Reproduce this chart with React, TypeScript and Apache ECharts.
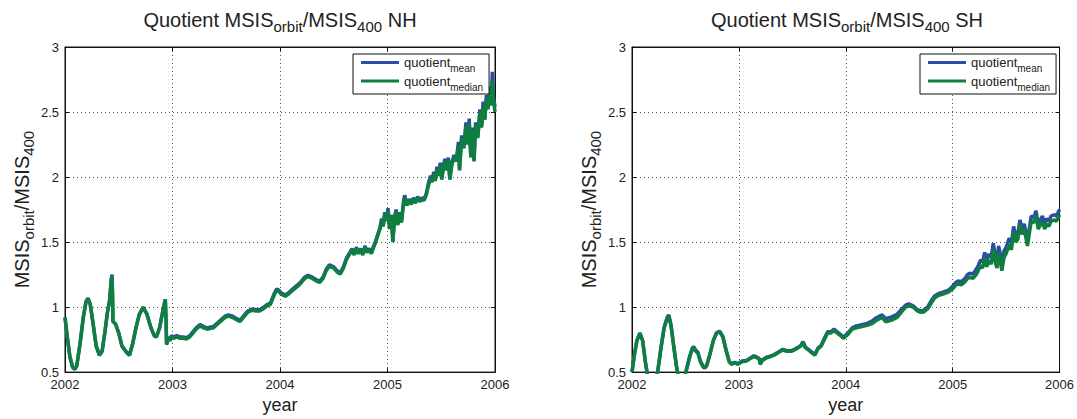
import React, { useEffect, useRef } from 'react';
import * as echarts from 'echarts';

// Axis ranges and tick positions
const yearTicks = [2002, 2003, 2004, 2005, 2006];
const quotientTicks = [0.5, 1, 1.5, 2, 2.5, 3];
const seriesNames = ['mean', 'median'];

// Northern hemisphere quotient, [year, value]
const nhMedian: [number, number][] = [
  [2002.000, 0.92], [2002.020, 0.78], [2002.045, 0.62], [2002.070, 0.54], [2002.090, 0.52],
  [2002.110, 0.55], [2002.140, 0.72], [2002.170, 0.92], [2002.195, 1.04], [2002.214, 1.065],
  [2002.235, 1.02], [2002.260, 0.88], [2002.290, 0.70], [2002.320, 0.63], [2002.345, 0.66],
  [2002.370, 0.80], [2002.395, 0.96], [2002.415, 1.05], [2002.430, 1.21], [2002.437, 1.24],
  [2002.442, 1.10], [2002.446, 0.89], [2002.470, 0.87], [2002.500, 0.80], [2002.530, 0.70],
  [2002.565, 0.66], [2002.600, 0.63], [2002.630, 0.72], [2002.660, 0.84], [2002.690, 0.94],
  [2002.726, 0.996], [2002.760, 0.95], [2002.800, 0.84], [2002.830, 0.78], [2002.850, 0.77],
  [2002.880, 0.84], [2002.910, 0.97], [2002.933, 1.057], [2002.940, 0.90], [2002.945, 0.71],
  [2002.960, 0.76], [2002.975, 0.74], [2002.990, 0.77], [2003.010, 0.76], [2003.040, 0.77],
  [2003.070, 0.76], [2003.100, 0.76], [2003.130, 0.755], [2003.160, 0.77], [2003.190, 0.80],
  [2003.220, 0.83], [2003.256, 0.855], [2003.290, 0.84], [2003.320, 0.83], [2003.350, 0.835],
  [2003.380, 0.84], [2003.420, 0.87], [2003.460, 0.90], [2003.490, 0.92], [2003.520, 0.93],
  [2003.560, 0.92], [2003.600, 0.90], [2003.630, 0.89], [2003.660, 0.92], [2003.700, 0.96],
  [2003.740, 0.976], [2003.780, 0.97], [2003.810, 0.97], [2003.850, 0.99], [2003.876, 1.007],
  [2003.910, 1.02], [2003.930, 1.06], [2003.950, 1.10], [2003.970, 1.128], [2003.990, 1.12],
  [2004.010, 1.10], [2004.050, 1.083], [2004.080, 1.10], [2004.120, 1.13], [2004.155, 1.153],
  [2004.190, 1.18], [2004.230, 1.22], [2004.260, 1.235], [2004.300, 1.22], [2004.340, 1.20],
  [2004.370, 1.19], [2004.400, 1.22], [2004.430, 1.28], [2004.460, 1.315], [2004.500, 1.30],
  [2004.530, 1.27], [2004.560, 1.254], [2004.590, 1.30], [2004.620, 1.37], [2004.650, 1.41],
  [2004.670, 1.44], [2004.690, 1.40], [2004.710, 1.45], [2004.730, 1.41], [2004.750, 1.44],
  [2004.770, 1.40], [2004.790, 1.46], [2004.810, 1.42], [2004.830, 1.44], [2004.850, 1.41],
  [2004.870, 1.457], [2004.890, 1.50], [2004.910, 1.55], [2004.930, 1.60], [2004.945, 1.66],
  [2004.960, 1.62], [2004.975, 1.72], [2004.990, 1.66], [2005.005, 1.74], [2005.020, 1.60],
  [2005.035, 1.70], [2005.050, 1.50], [2005.065, 1.68], [2005.080, 1.74], [2005.095, 1.63],
  [2005.110, 1.72], [2005.130, 1.65], [2005.150, 1.80], [2005.160, 1.84], [2005.180, 1.78],
  [2005.200, 1.82], [2005.220, 1.79], [2005.240, 1.83], [2005.260, 1.80], [2005.280, 1.84],
  [2005.300, 1.81], [2005.320, 1.83], [2005.340, 1.82], [2005.360, 1.86], [2005.380, 1.93],
  [2005.400, 1.99], [2005.415, 1.96], [2005.430, 2.02], [2005.445, 1.97], [2005.460, 2.06],
  [2005.475, 2.01], [2005.490, 2.09], [2005.505, 1.98], [2005.520, 2.07], [2005.535, 2.12],
  [2005.550, 2.05], [2005.565, 2.13], [2005.580, 1.98], [2005.600, 2.10], [2005.620, 2.15],
  [2005.640, 2.12], [2005.660, 2.24], [2005.670, 2.05], [2005.690, 2.30], [2005.710, 2.22],
  [2005.730, 2.39], [2005.745, 2.25], [2005.760, 2.42], [2005.775, 2.15], [2005.790, 2.36],
  [2005.805, 2.12], [2005.820, 2.40], [2005.840, 2.30], [2005.860, 2.50], [2005.875, 2.38],
  [2005.890, 2.55], [2005.905, 2.44], [2005.920, 2.60], [2005.935, 2.52], [2005.950, 2.66],
  [2005.965, 2.55], [2005.975, 2.74], [2005.985, 2.60], [2006.000, 2.50],
];

const nhMean: [number, number][] = [
  [2002.000, 0.92], [2002.020, 0.78], [2002.045, 0.62], [2002.070, 0.54], [2002.090, 0.52],
  [2002.110, 0.55], [2002.140, 0.72], [2002.170, 0.92], [2002.195, 1.04], [2002.214, 1.07],
  [2002.235, 1.02], [2002.260, 0.88], [2002.290, 0.70], [2002.320, 0.63], [2002.345, 0.66],
  [2002.370, 0.80], [2002.395, 0.96], [2002.415, 1.05], [2002.430, 1.21], [2002.437, 1.25],
  [2002.442, 1.10], [2002.446, 0.89], [2002.470, 0.87], [2002.500, 0.80], [2002.530, 0.70],
  [2002.565, 0.66], [2002.600, 0.63], [2002.630, 0.72], [2002.660, 0.84], [2002.690, 0.94],
  [2002.726, 1.0], [2002.760, 0.95], [2002.800, 0.84], [2002.830, 0.78], [2002.850, 0.77],
  [2002.880, 0.84], [2002.910, 0.97], [2002.933, 1.06], [2002.940, 0.90], [2002.945, 0.72],
  [2002.960, 0.77], [2002.975, 0.75], [2002.990, 0.78], [2003.010, 0.77], [2003.040, 0.78],
  [2003.070, 0.77], [2003.100, 0.77], [2003.130, 0.765], [2003.160, 0.78], [2003.190, 0.81],
  [2003.220, 0.84], [2003.256, 0.865], [2003.290, 0.85], [2003.320, 0.84], [2003.350, 0.845],
  [2003.380, 0.85], [2003.420, 0.88], [2003.460, 0.91], [2003.490, 0.93], [2003.520, 0.94],
  [2003.560, 0.93], [2003.600, 0.91], [2003.630, 0.90], [2003.660, 0.93], [2003.700, 0.97],
  [2003.740, 0.985], [2003.780, 0.98], [2003.810, 0.98], [2003.850, 1.0], [2003.876, 1.017],
  [2003.910, 1.03], [2003.930, 1.07], [2003.950, 1.11], [2003.970, 1.14], [2003.990, 1.13],
  [2004.010, 1.11], [2004.050, 1.093], [2004.080, 1.11], [2004.120, 1.14], [2004.155, 1.165],
  [2004.190, 1.19], [2004.230, 1.23], [2004.260, 1.245], [2004.300, 1.23], [2004.340, 1.21],
  [2004.370, 1.20], [2004.400, 1.23], [2004.430, 1.29], [2004.460, 1.325], [2004.500, 1.31],
  [2004.530, 1.28], [2004.560, 1.264], [2004.590, 1.31], [2004.620, 1.38], [2004.650, 1.42],
  [2004.670, 1.45], [2004.690, 1.41], [2004.710, 1.46], [2004.730, 1.42], [2004.750, 1.45],
  [2004.770, 1.41], [2004.790, 1.47], [2004.810, 1.43], [2004.830, 1.45], [2004.850, 1.42],
  [2004.870, 1.467], [2004.890, 1.51], [2004.910, 1.56], [2004.930, 1.61], [2004.945, 1.68],
  [2004.960, 1.63], [2004.975, 1.73], [2004.990, 1.67], [2005.005, 1.76], [2005.020, 1.61],
  [2005.035, 1.71], [2005.050, 1.51], [2005.065, 1.69], [2005.080, 1.75], [2005.095, 1.64],
  [2005.110, 1.73], [2005.130, 1.66], [2005.150, 1.82], [2005.160, 1.86], [2005.180, 1.79],
  [2005.200, 1.83], [2005.220, 1.80], [2005.240, 1.84], [2005.260, 1.81], [2005.280, 1.85],
  [2005.300, 1.82], [2005.320, 1.84], [2005.340, 1.83], [2005.360, 1.87], [2005.380, 1.95],
  [2005.400, 2.01], [2005.415, 1.97], [2005.430, 2.04], [2005.445, 1.98], [2005.460, 2.08],
  [2005.475, 2.02], [2005.490, 2.11], [2005.505, 1.99], [2005.520, 2.09], [2005.535, 2.14],
  [2005.550, 2.06], [2005.565, 2.15], [2005.580, 1.99], [2005.600, 2.12], [2005.620, 2.17],
  [2005.640, 2.13], [2005.660, 2.27], [2005.670, 2.06], [2005.690, 2.32], [2005.710, 2.23],
  [2005.730, 2.42], [2005.745, 2.26], [2005.760, 2.45], [2005.775, 2.16], [2005.790, 2.38],
  [2005.805, 2.13], [2005.820, 2.42], [2005.840, 2.31], [2005.860, 2.52], [2005.875, 2.39],
  [2005.890, 2.58], [2005.905, 2.45], [2005.920, 2.63], [2005.935, 2.53], [2005.950, 2.70],
  [2005.965, 2.57], [2005.975, 2.81], [2005.985, 2.62], [2006.000, 2.54],
];

// Southern hemisphere quotient, [year, value]
const shMedian: [number, number][] = [
  [2002.000, 0.50], [2002.020, 0.62], [2002.045, 0.74], [2002.074, 0.80], [2002.100, 0.74],
  [2002.125, 0.58], [2002.150, 0.45], [2002.180, 0.38], [2002.215, 0.42], [2002.240, 0.50],
  [2002.270, 0.68], [2002.300, 0.84], [2002.330, 0.92], [2002.344, 0.935], [2002.365, 0.86],
  [2002.390, 0.70], [2002.415, 0.55], [2002.435, 0.46], [2002.460, 0.40], [2002.490, 0.45],
  [2002.510, 0.52], [2002.540, 0.62], [2002.565, 0.68], [2002.577, 0.69], [2002.595, 0.66],
  [2002.615, 0.65], [2002.640, 0.58], [2002.665, 0.54], [2002.680, 0.53], [2002.700, 0.55],
  [2002.730, 0.64], [2002.760, 0.74], [2002.790, 0.80], [2002.820, 0.81], [2002.850, 0.77],
  [2002.880, 0.67], [2002.910, 0.58], [2002.930, 0.56], [2002.960, 0.57], [2002.990, 0.56],
  [2003.030, 0.58], [2003.070, 0.585], [2003.100, 0.60], [2003.140, 0.62], [2003.170, 0.61],
  [2003.190, 0.60], [2003.200, 0.56], [2003.220, 0.59], [2003.260, 0.61], [2003.300, 0.62],
  [2003.330, 0.63], [2003.370, 0.65], [2003.410, 0.67], [2003.450, 0.66], [2003.490, 0.66],
  [2003.520, 0.67], [2003.550, 0.685], [2003.580, 0.70], [2003.600, 0.73], [2003.620, 0.69],
  [2003.650, 0.67], [2003.680, 0.65], [2003.710, 0.63], [2003.740, 0.68], [2003.770, 0.70],
  [2003.800, 0.75], [2003.830, 0.80], [2003.860, 0.80], [2003.890, 0.82], [2003.920, 0.80],
  [2003.950, 0.78], [2003.980, 0.76], [2004.020, 0.79], [2004.060, 0.83], [2004.100, 0.84],
  [2004.150, 0.85], [2004.200, 0.86], [2004.250, 0.875], [2004.290, 0.90], [2004.340, 0.92],
  [2004.370, 0.89], [2004.390, 0.89], [2004.430, 0.90], [2004.480, 0.92], [2004.530, 0.97],
  [2004.560, 1.00], [2004.590, 1.01], [2004.630, 1.00], [2004.670, 0.97], [2004.700, 0.96],
  [2004.730, 0.963], [2004.770, 0.99], [2004.800, 1.03], [2004.830, 1.07], [2004.870, 1.09],
  [2004.910, 1.10], [2004.960, 1.115], [2005.000, 1.14], [2005.030, 1.17], [2005.050, 1.18],
  [2005.080, 1.17], [2005.110, 1.19], [2005.140, 1.22], [2005.160, 1.23], [2005.190, 1.22],
  [2005.220, 1.25], [2005.240, 1.28], [2005.260, 1.32], [2005.280, 1.30], [2005.300, 1.38],
  [2005.320, 1.31], [2005.340, 1.36], [2005.360, 1.33], [2005.380, 1.45], [2005.400, 1.34],
  [2005.415, 1.30], [2005.430, 1.42], [2005.445, 1.36], [2005.460, 1.28], [2005.480, 1.38],
  [2005.500, 1.41], [2005.530, 1.48], [2005.550, 1.44], [2005.570, 1.58], [2005.590, 1.50],
  [2005.610, 1.52], [2005.630, 1.635], [2005.650, 1.56], [2005.670, 1.60], [2005.700, 1.47],
  [2005.720, 1.58], [2005.735, 1.66], [2005.760, 1.65], [2005.780, 1.71], [2005.800, 1.60],
  [2005.820, 1.63], [2005.840, 1.66], [2005.860, 1.60], [2005.880, 1.64], [2005.900, 1.62],
  [2005.920, 1.66], [2005.950, 1.67], [2005.970, 1.66], [2006.000, 1.71],
];

const shMean: [number, number][] = [
  [2002.000, 0.50], [2002.020, 0.62], [2002.045, 0.74], [2002.074, 0.80], [2002.100, 0.74],
  [2002.125, 0.58], [2002.150, 0.45], [2002.180, 0.38], [2002.215, 0.42], [2002.240, 0.50],
  [2002.270, 0.68], [2002.300, 0.84], [2002.330, 0.92], [2002.344, 0.94], [2002.365, 0.86],
  [2002.390, 0.70], [2002.415, 0.55], [2002.435, 0.46], [2002.460, 0.40], [2002.490, 0.45],
  [2002.510, 0.52], [2002.540, 0.62], [2002.565, 0.685], [2002.577, 0.695], [2002.595, 0.67],
  [2002.615, 0.655], [2002.640, 0.585], [2002.665, 0.545], [2002.680, 0.535], [2002.700, 0.555],
  [2002.730, 0.64], [2002.760, 0.74], [2002.790, 0.80], [2002.820, 0.815], [2002.850, 0.775],
  [2002.880, 0.67], [2002.910, 0.58], [2002.930, 0.565], [2002.960, 0.575], [2002.990, 0.565],
  [2003.030, 0.585], [2003.070, 0.59], [2003.100, 0.605], [2003.140, 0.625], [2003.170, 0.615],
  [2003.190, 0.605], [2003.200, 0.565], [2003.220, 0.595], [2003.260, 0.615], [2003.300, 0.625],
  [2003.330, 0.635], [2003.370, 0.655], [2003.410, 0.675], [2003.450, 0.665], [2003.490, 0.665],
  [2003.520, 0.675], [2003.550, 0.69], [2003.580, 0.705], [2003.600, 0.735], [2003.620, 0.695],
  [2003.650, 0.675], [2003.680, 0.655], [2003.710, 0.635], [2003.740, 0.685], [2003.770, 0.705],
  [2003.800, 0.76], [2003.830, 0.81], [2003.860, 0.81], [2003.890, 0.83], [2003.920, 0.81],
  [2003.950, 0.79], [2003.980, 0.77], [2004.020, 0.80], [2004.060, 0.84], [2004.100, 0.855],
  [2004.150, 0.865], [2004.200, 0.875], [2004.250, 0.895], [2004.290, 0.92], [2004.340, 0.94],
  [2004.370, 0.915], [2004.390, 0.915], [2004.430, 0.925], [2004.480, 0.945], [2004.530, 0.99],
  [2004.560, 1.015], [2004.590, 1.025], [2004.630, 1.01], [2004.670, 0.98], [2004.700, 0.97],
  [2004.730, 0.975], [2004.770, 1.005], [2004.800, 1.05], [2004.830, 1.085], [2004.870, 1.105],
  [2004.910, 1.115], [2004.960, 1.13], [2005.000, 1.16], [2005.030, 1.19], [2005.050, 1.20],
  [2005.080, 1.195], [2005.110, 1.215], [2005.140, 1.25], [2005.160, 1.26], [2005.190, 1.255],
  [2005.220, 1.29], [2005.240, 1.32], [2005.260, 1.36], [2005.280, 1.35], [2005.300, 1.42],
  [2005.320, 1.36], [2005.340, 1.41], [2005.360, 1.38], [2005.380, 1.49], [2005.400, 1.39],
  [2005.415, 1.35], [2005.430, 1.47], [2005.445, 1.41], [2005.460, 1.33], [2005.480, 1.43],
  [2005.500, 1.46], [2005.530, 1.53], [2005.550, 1.49], [2005.570, 1.62], [2005.590, 1.55],
  [2005.610, 1.57], [2005.630, 1.67], [2005.650, 1.60], [2005.670, 1.64], [2005.700, 1.51],
  [2005.720, 1.62], [2005.735, 1.70], [2005.760, 1.69], [2005.780, 1.74], [2005.800, 1.64],
  [2005.820, 1.67], [2005.840, 1.70], [2005.860, 1.64], [2005.880, 1.68], [2005.900, 1.66],
  [2005.920, 1.70], [2005.950, 1.71], [2005.970, 1.70], [2006.000, 1.75],
];

const FONT = '"Liberation Sans", Arial, Helvetica, sans-serif';
const INK = '#222222';
const MEAN_COLOR = '#2b4ea5';
const MEDIAN_COLOR = '#0f7f3f';

const panels = [
  { region: 'NH', left: 65, mean: nhMean, median: nhMedian },
  { region: 'SH', left: 632, mean: shMean, median: shMedian },
];

const PLOT_TOP = 47;
const PLOT_W = 430;
const PLOT_H = 329;

const bigSubRich = {
  a: { fontSize: 20, lineHeight: 28, fontWeight: 'normal', fontFamily: FONT, color: INK },
  s: {
    fontSize: 15,
    lineHeight: 15,
    verticalAlign: 'bottom',
    fontWeight: 'normal',
    fontFamily: FONT,
    color: INK,
  },
};

const legendRich = {
  a: { fontSize: 13, lineHeight: 22, fontWeight: 'normal', fontFamily: FONT, color: INK },
  s: {
    fontSize: 10,
    lineHeight: 10,
    verticalAlign: 'bottom',
    fontWeight: 'normal',
    fontFamily: FONT,
    color: INK,
  },
};

const dotted = { type: [1, 3], color: '#555555', width: 1 };

function buildOption() {
  const grid: any[] = [];
  const xAxis: any[] = [];
  const yAxis: any[] = [];
  const series: any[] = [];
  const title: any[] = [];
  const legend: any[] = [];

  panels.forEach((p, i) => {
    grid.push({
      left: p.left,
      top: PLOT_TOP,
      width: PLOT_W,
      height: PLOT_H,
      show: true,
      borderColor: '#111',
      borderWidth: 1,
      backgroundColor: '#fff',
    });

    title.push({
      text: `{a|Quotient MSIS}{s|orbit}{a|/MSIS}{s|400}{a| ${p.region}}`,
      left: p.left + PLOT_W / 2,
      top: 6,
      textAlign: 'center',
      padding: 0,
      textStyle: { fontWeight: 'normal', fontFamily: FONT, rich: bigSubRich },
    });

    const xBase = {
      type: 'value',
      gridIndex: i,
      min: yearTicks[0],
      max: yearTicks[yearTicks.length - 1],
      interval: 1,
    };
    xAxis.push({
      ...xBase,
      position: 'bottom',
      axisLine: { show: true, lineStyle: { color: '#111' } },
      axisTick: { show: true, inside: true, length: 4, lineStyle: { color: '#111' } },
      axisLabel: {
        show: true,
        margin: 6,
        fontSize: 13,
        fontFamily: FONT,
        color: INK,
        formatter: (v: number) => String(v),
      },
      splitLine: { show: true, lineStyle: dotted },
      name: 'year',
      nameLocation: 'middle',
      nameGap: 22,
      nameTextStyle: { fontSize: 18, fontFamily: FONT, color: INK },
    });
    xAxis.push({
      ...xBase,
      position: 'top',
      axisLine: { show: true, lineStyle: { color: '#111' } },
      axisTick: { show: true, inside: true, length: 4, lineStyle: { color: '#111' } },
      axisLabel: { show: false },
      splitLine: { show: false },
    });

    const yBase = {
      type: 'value',
      gridIndex: i,
      min: quotientTicks[0],
      max: quotientTicks[quotientTicks.length - 1],
      interval: 0.5,
    };
    yAxis.push({
      ...yBase,
      position: 'left',
      axisLine: { show: true, lineStyle: { color: '#111' } },
      axisTick: { show: true, inside: true, length: 4, lineStyle: { color: '#111' } },
      axisLabel: { show: true, margin: 6, fontSize: 13, fontFamily: FONT, color: INK },
      splitLine: { show: true, lineStyle: dotted },
      name: '{a|MSIS}{s|orbit}{a|/MSIS}{s|400}',
      nameLocation: 'middle',
      nameRotate: 90,
      nameGap: 29,
      nameTextStyle: { fontWeight: 'normal', fontFamily: FONT, rich: bigSubRich },
    });
    yAxis.push({
      ...yBase,
      position: 'right',
      axisLine: { show: true, lineStyle: { color: '#111' } },
      axisTick: { show: true, inside: true, length: 4, lineStyle: { color: '#111' } },
      axisLabel: { show: false },
      splitLine: { show: false },
    });

    const lineSeries = (name: string, data: [number, number][], color: string) => ({
      type: 'line',
      name,
      xAxisIndex: i * 2,
      yAxisIndex: i * 2,
      data,
      symbol: 'none',
      showSymbol: false,
      clip: true,
      color,
      itemStyle: { color },
      lineStyle: { color, width: 3.5 },
    });
    series.push(lineSeries(seriesNames[0], p.mean, MEAN_COLOR));
    series.push(lineSeries(seriesNames[1], p.median, MEDIAN_COLOR));

    legend.push({
      data: seriesNames,
      orient: 'vertical',
      left: p.left + PLOT_W - 142,
      top: 54,
      icon: 'rect',
      itemWidth: 38,
      itemHeight: 3,
      itemGap: 1,
      padding: [2, 6, 2, 8],
      borderColor: '#111',
      borderWidth: 1,
      backgroundColor: '#fff',
      selectedMode: false,
      formatter: (n: string) => `{a|quotient}{s|${n}}`,
      textStyle: { fontWeight: 'normal', fontFamily: FONT, rich: legendRich },
    });
  });

  return {
    animation: false,
    backgroundColor: '#fff',
    title,
    legend,
    grid,
    xAxis,
    yAxis,
    series,
  };
}

export default function App() {
  const ref = useRef<HTMLDivElement>(null);

  useEffect(() => {
    if (!ref.current) return;
    const chart = echarts.init(ref.current, undefined, { renderer: 'svg' });
    chart.setOption(buildOption() as any);
    return () => chart.dispose();
  }, []);

  return (
    <div
      ref={ref}
      style={{ position: 'fixed', left: 0, top: 0, width: 1077, height: 419, background: '#fff' }}
    />
  );
}
